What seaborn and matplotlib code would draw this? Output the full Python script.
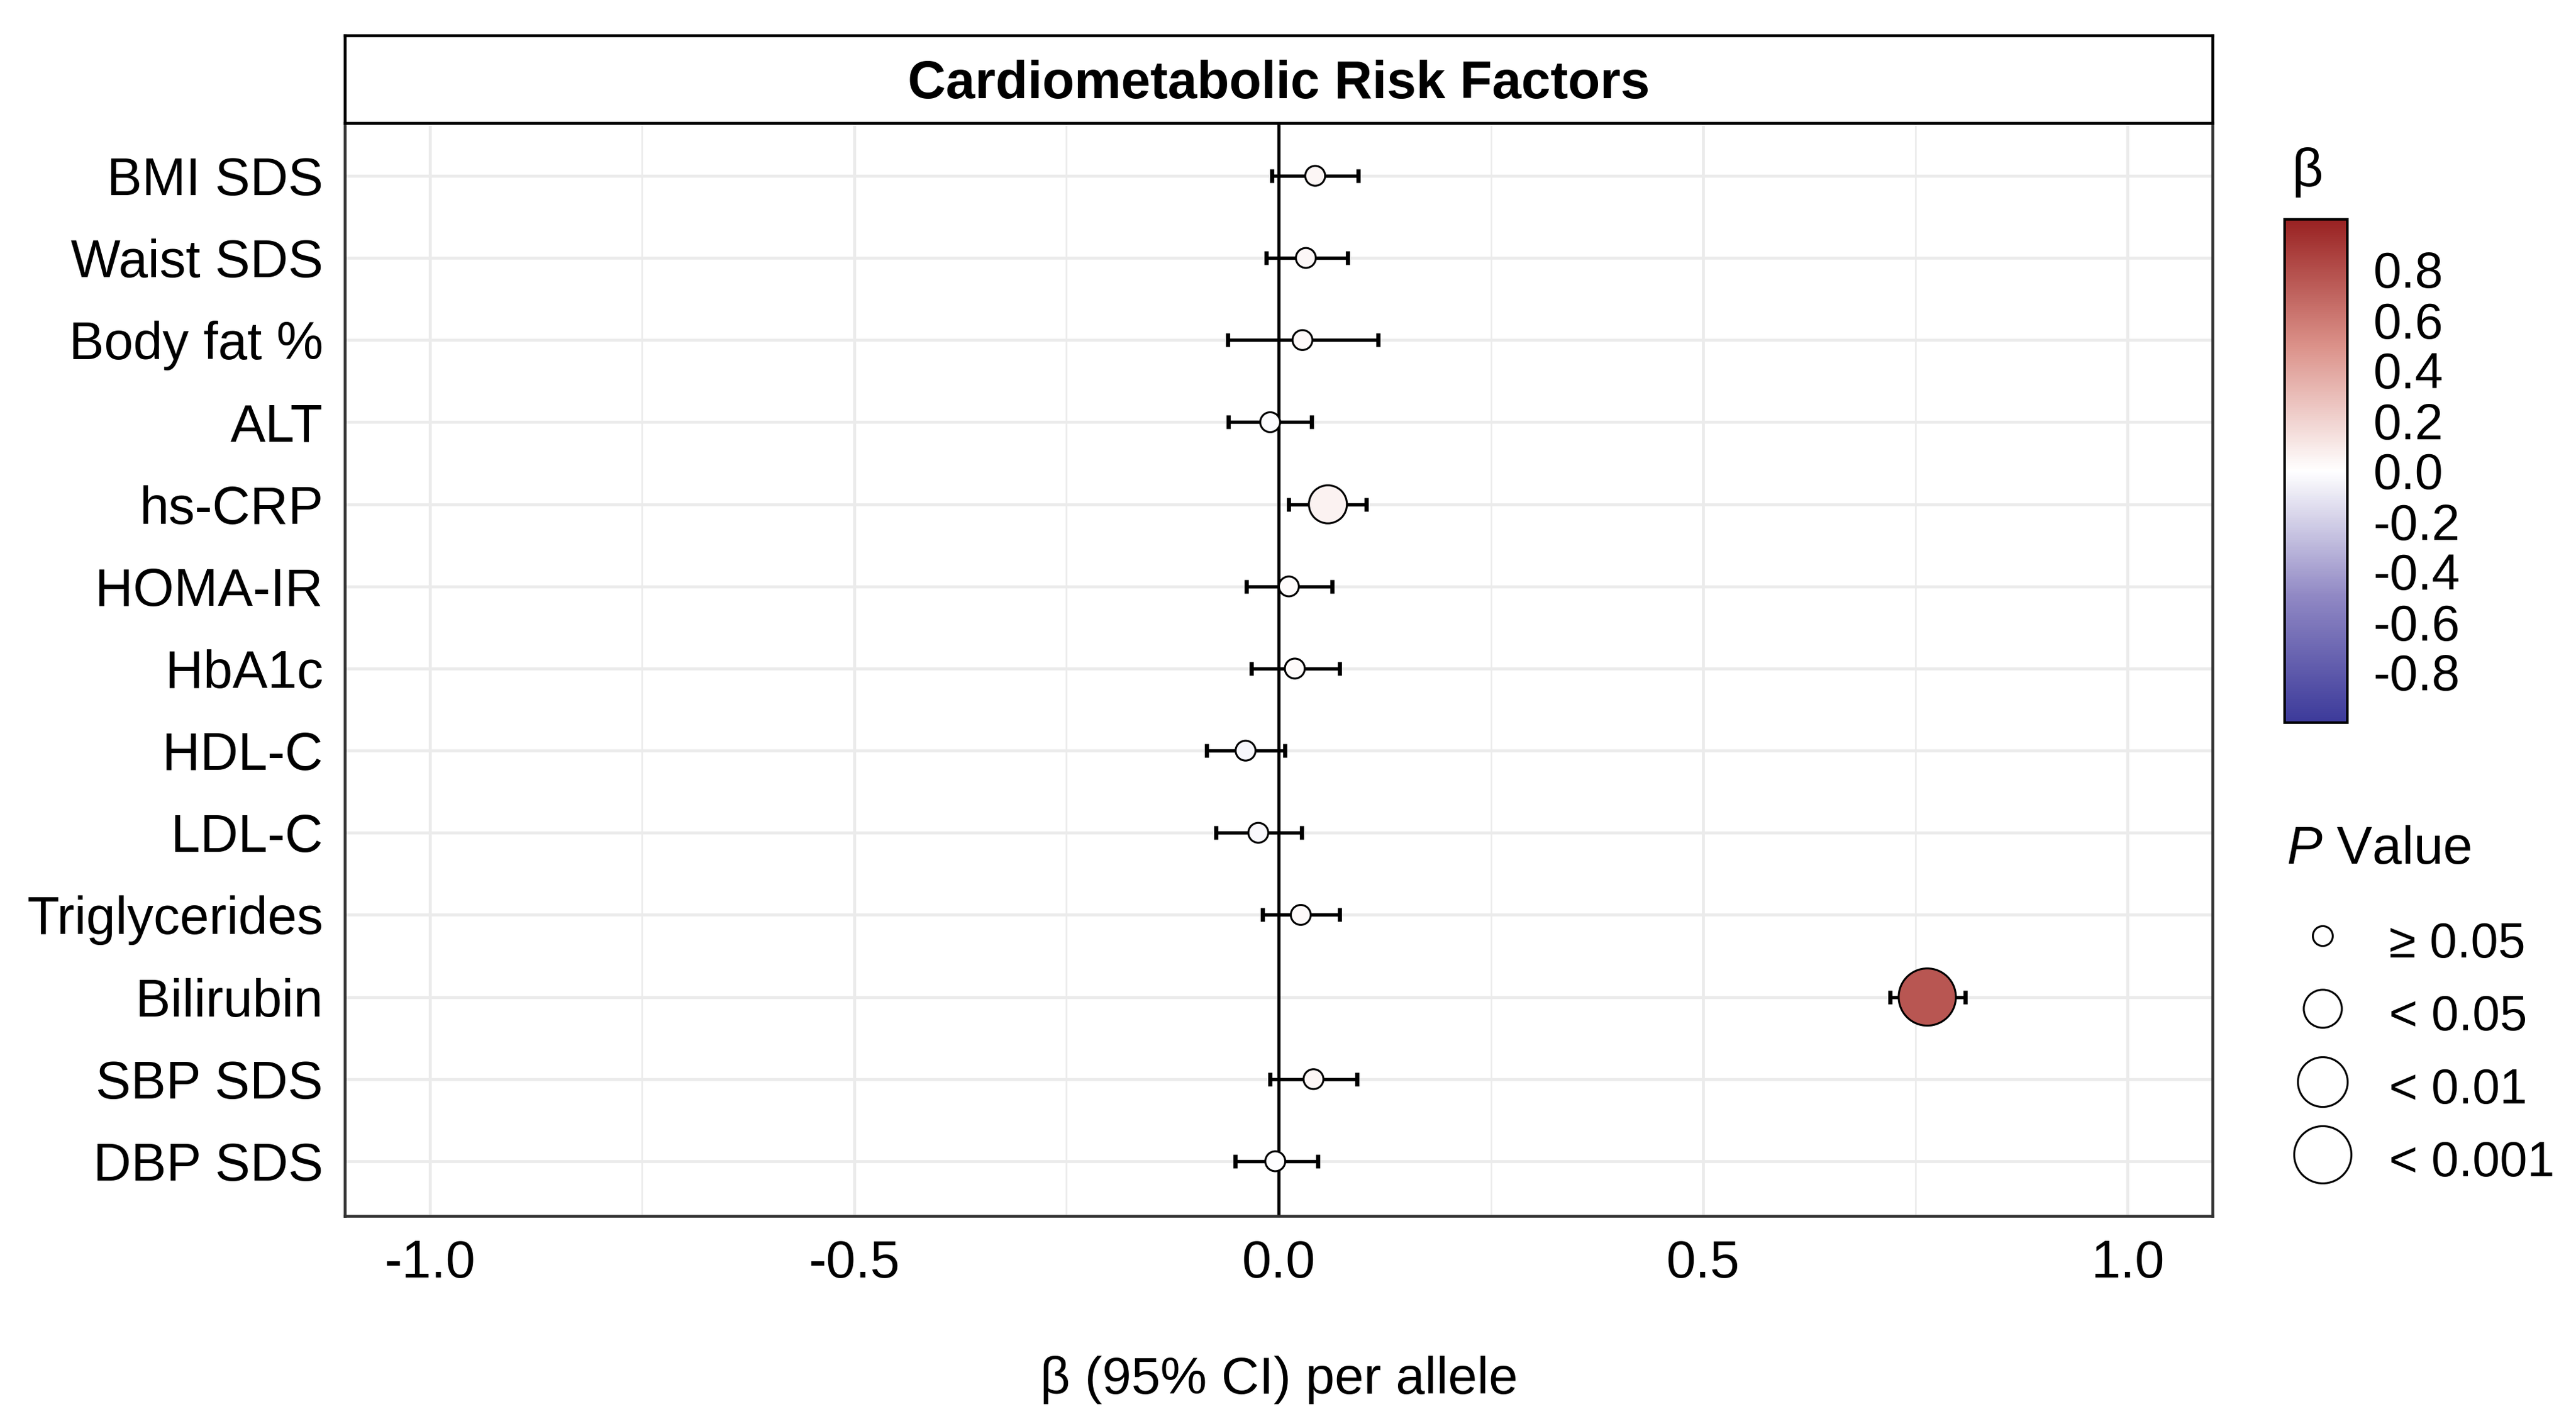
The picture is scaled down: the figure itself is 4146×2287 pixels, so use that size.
import numpy as np
import pandas as pd
import matplotlib
matplotlib.use("Agg")
import matplotlib.pyplot as plt
import seaborn as sns
from matplotlib.colors import LinearSegmentedColormap, Normalize
from matplotlib.cm import ScalarMappable
from matplotlib.lines import Line2D

# ---------------- data ----------------
traits = ["BMI SDS", "Waist SDS", "Body fat %", "ALT", "hs-CRP", "HOMA-IR", "HbA1c",
          "HDL-C", "LDL-C", "Triglycerides", "Bilirubin", "SBP SDS", "DBP SDS"]
beta = [0.043, 0.032, 0.028, -0.010, 0.058, 0.012, 0.019, -0.039, -0.024, 0.026, 0.764, 0.041, -0.004]
ci_low = [-0.008, -0.015, -0.060, -0.059, 0.012, -0.038, -0.032, -0.085, -0.074, -0.019, 0.720, -0.010, -0.051]
ci_high = [0.094, 0.081, 0.117, 0.039, 0.103, 0.063, 0.072, 0.007, 0.027, 0.072, 0.809, 0.092, 0.046]
p_cat = ["≥ 0.05", "≥ 0.05", "≥ 0.05", "≥ 0.05", "< 0.05", "≥ 0.05", "≥ 0.05",
         "≥ 0.05", "≥ 0.05", "≥ 0.05", "< 0.001", "≥ 0.05", "≥ 0.05"]
p_levels = ["≥ 0.05", "< 0.05", "< 0.01", "< 0.001"]
x_ticks = [-1.0, -0.5, 0.0, 0.5, 1.0]
cbar_ticks = [-0.8, -0.6, -0.4, -0.2, 0.0, 0.2, 0.4, 0.6, 0.8]

# ---------------- style ----------------
sns.set_style("white", rc={"text.color": "black", "axes.labelcolor": "black",
                           "xtick.color": "#333333", "ytick.color": "#333333"})
plt.rcParams["font.family"] = ["Liberation Sans", "DejaVu Sans"]
plt.rcParams["axes.unicode_minus"] = False
plt.rcParams["mathtext.fontset"] = "custom"
plt.rcParams["mathtext.it"] = "Liberation Sans:italic"
plt.rcParams["mathtext.rm"] = "Liberation Sans"

df = pd.DataFrame({"trait": traits, "beta": beta, "lo": ci_low, "hi": ci_high, "p": p_cat})

cmap = LinearSegmentedColormap.from_list(
    "beta", [(0.0, "#3C3A9A"), (0.25, "#9088C4"), (0.5, "#FFFFFF"),
             (0.75, "#DB9189"), (1.0, "#992222")])
norm = Normalize(-1, 1)

W, H = 4146, 2287
fig = plt.figure(figsize=(W / 300, H / 300), dpi=300)

px_l, px_r, px_t, px_b = 555, 3561, 198, 1957
ax = fig.add_axes([px_l / W, 1 - px_b / H, (px_r - px_l) / W, (px_b - px_t) / H])

# grid
ax.set_axisbelow(True)
ax.set_xticks(x_ticks)
ax.set_xticks([-0.75, -0.25, 0.25, 0.75], minor=True)
ax.grid(True, which="major", color="#EBEBEB", lw=1.15)
ax.grid(True, which="minor", axis="x", color="#EBEBEB", lw=0.6)

ax.axvline(0, color="black", lw=1.2, zorder=1.5)

err = np.array([df["beta"] - df["lo"], df["hi"] - df["beta"]])
ax.errorbar(df["beta"], df["trait"], xerr=err, fmt="none", ecolor="black",
            elinewidth=1.3, capsize=2.7, capthick=1.6, zorder=2)

sizes = {"≥ 0.05": 59, "< 0.05": 216, "< 0.01": 369, "< 0.001": 488}
sns.scatterplot(data=df, x="beta", y="trait", hue="beta", palette=cmap, hue_norm=norm,
                size="p", sizes=sizes, size_order=p_levels, edgecolor="black",
                linewidth=0.75, legend=False, ax=ax, zorder=3)

ax.set_xlim(-1.1, 1.1)
ax.set_ylim(len(traits) - 1 + 0.666, -0.643)
ax.set_xticklabels([f"{t:.1f}" for t in x_ticks])
ax.set_ylabel("")
ax.set_xlabel("β (95% CI) per allele", fontsize=20.2, color="black")
ax.xaxis.set_label_coords(0.5, (px_b - 2243) / (px_b - px_t))
ax.xaxis.label.set_va("baseline")
ax.tick_params(axis="both", which="major", length=4.4, width=1.0, color="#333333",
               labelcolor="black")
ax.tick_params(axis="x", pad=4.5, labelsize=20.5)
ax.tick_params(axis="y", pad=4, labelsize=20.3)
ax.tick_params(which="minor", length=0)
for s in ax.spines.values():
    s.set_color("#333333")
    s.set_linewidth(1.1)
    s.set_visible(True)

# strip
st = fig.add_axes([px_l / W, 1 - px_t / H, (px_r - px_l) / W, (px_t - 57) / H])
st.set_facecolor("white")
st.set_xticks([])
st.set_yticks([])
for s in st.spines.values():
    s.set_color("black")
    s.set_linewidth(1.1)
    s.set_visible(True)
st.text(0.5, (198 - 158) / 141, "Cardiometabolic Risk Factors", ha="center", va="baseline",
        fontsize=20.3, fontweight="bold", color="black", transform=st.transAxes)

# colorbar
cb_l, cb_r, cb_t, cb_b = 3677, 3778, 353, 1163
cax = fig.add_axes([cb_l / W, 1 - cb_b / H, (cb_r - cb_l) / W, (cb_b - cb_t) / H])
cb = fig.colorbar(ScalarMappable(norm=norm, cmap=cmap), cax=cax)
cb.set_ticks(cbar_ticks)
cb.set_ticklabels([f"{t:.1f}" for t in cbar_ticks])
cb.outline.set_edgecolor("black")
cb.outline.set_linewidth(1.0)
cax.tick_params(direction="in", length=4.8, width=0.8, color="black", labelsize=19.5,
                labelcolor="black", pad=10, left=True, right=True)
fig.text(3689 / W, 1 - 277 / H, "β", fontsize=21, ha="left", va="center", color="black")

# size legend
fig.text(3680 / W, 1 - 1368 / H, "$\\mathit{P}$ Value", fontsize=20.5, ha="left",
         va="center", color="black")
handles = [Line2D([], [], marker="o", linestyle="none", markerfacecolor="white",
                  markeredgecolor="black", markeredgewidth=0.75,
                  markersize=np.sqrt(sizes[k])) for k in p_levels]
leg = fig.legend(handles, p_levels, loc="upper left",
                 bbox_to_anchor=(3680 / W, 1 - 1471 / H), frameon=False,
                 fontsize=19, handleheight=1.3, labelspacing=0.39,
                 handlelength=1.47, handletextpad=0.61, borderpad=0, borderaxespad=0)
for t in leg.get_texts():
    t.set_color("black")

fig.savefig("out.png", dpi=300, facecolor="white")
